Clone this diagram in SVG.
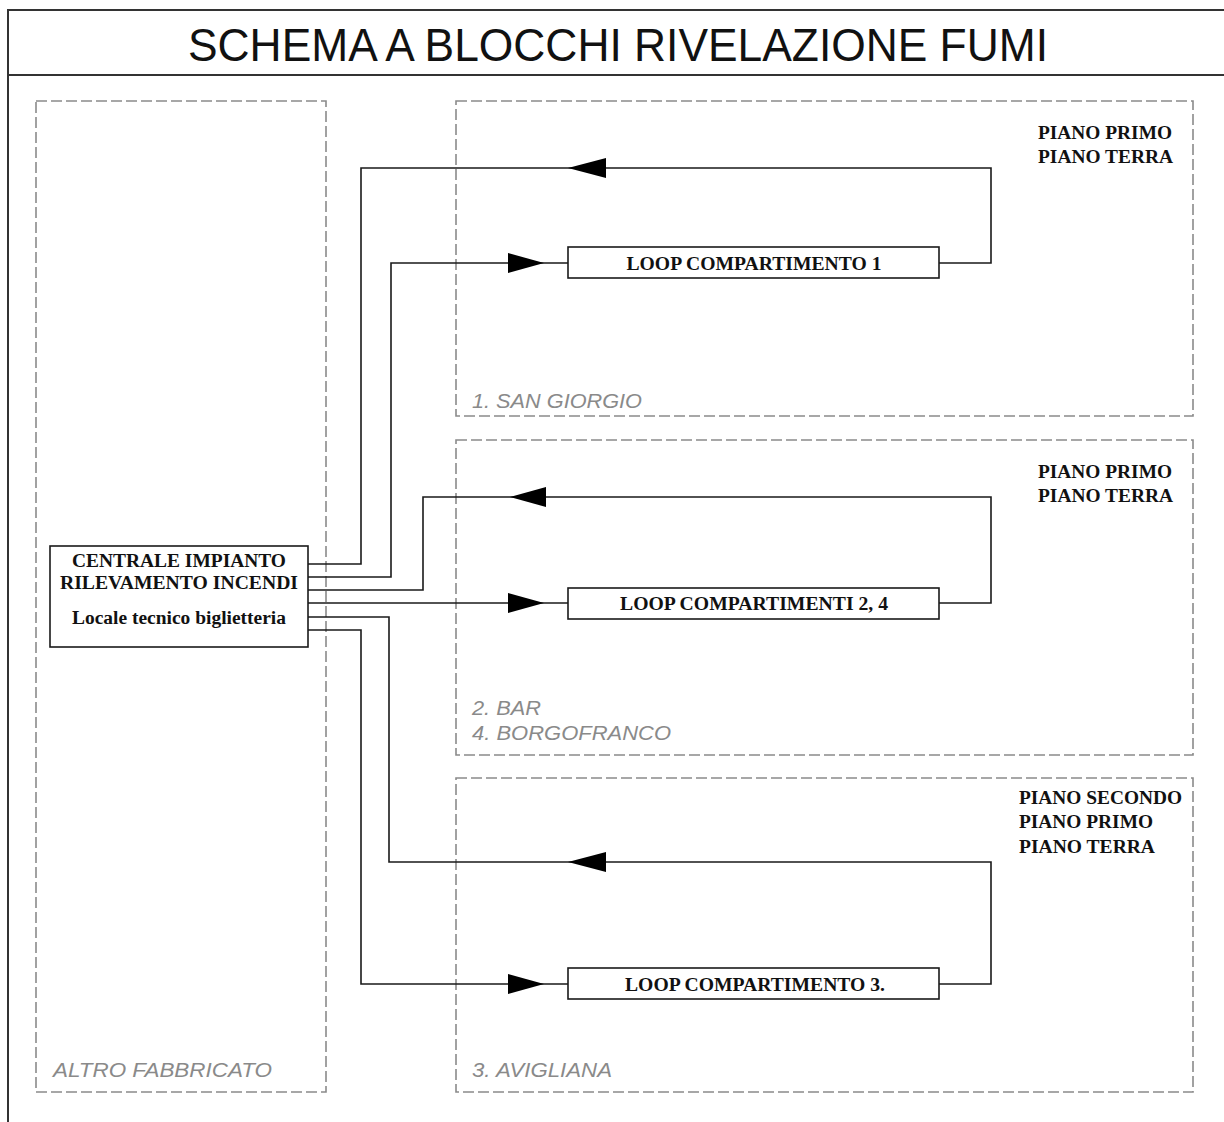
<svg xmlns="http://www.w3.org/2000/svg" width="1224" height="1122" viewBox="0 0 1224 1122">
<style>
.frame{fill:none;stroke:#333;stroke-width:2}
.zone{fill:none;stroke:#8a8a8a;stroke-width:1.6;stroke-dasharray:11 4}
.box{fill:#fff;stroke:#1a1a1a;stroke-width:1.6}
.wire{fill:none;stroke:#1a1a1a;stroke-width:1.6}
.arrow{fill:#000}
.title{font-family:"Liberation Sans",Arial,sans-serif;font-size:47px;fill:#111}
.bold{font-family:"Liberation Serif","Times New Roman",serif;font-weight:bold;font-size:18px;fill:#111}
.zlabel{font-family:"Liberation Sans",Arial,sans-serif;font-style:italic;font-size:20px;fill:#8a8a8a}
</style>
<rect width="1224" height="1122" fill="#fff"/>
<g id="frame">
<path class="frame" d="M1226,10 H8 V1124 M8,75 H1226"/>
<text class="title" x="618" y="61" text-anchor="middle" textLength="860" lengthAdjust="spacingAndGlyphs">SCHEMA A BLOCCHI RIVELAZIONE FUMI</text>
</g>
<g id="zone-altro">
<rect class="zone" x="36" y="101" width="290" height="991"/>
<text class="zlabel" x="53" y="1077" textLength="219" lengthAdjust="spacingAndGlyphs">ALTRO FABBRICATO</text>
</g>
<g id="zone-1">
<rect class="zone" x="456" y="101" width="737" height="315"/>
<text class="zlabel" x="472" y="408" textLength="170" lengthAdjust="spacingAndGlyphs">1. SAN GIORGIO</text>
<text class="bold" x="1038" y="139" textLength="134" lengthAdjust="spacingAndGlyphs">PIANO PRIMO</text>
<text class="bold" x="1038" y="163" textLength="135" lengthAdjust="spacingAndGlyphs">PIANO TERRA</text>
</g>
<g id="zone-2">
<rect class="zone" x="456" y="440" width="737" height="315"/>
<text class="zlabel" x="472" y="715" textLength="69" lengthAdjust="spacingAndGlyphs">2. BAR</text>
<text class="zlabel" x="472" y="740" textLength="199" lengthAdjust="spacingAndGlyphs">4. BORGOFRANCO</text>
<text class="bold" x="1038" y="478" textLength="134" lengthAdjust="spacingAndGlyphs">PIANO PRIMO</text>
<text class="bold" x="1038" y="502" textLength="135" lengthAdjust="spacingAndGlyphs">PIANO TERRA</text>
</g>
<g id="zone-3">
<rect class="zone" x="456" y="778" width="737" height="314"/>
<text class="zlabel" x="472" y="1077" textLength="140" lengthAdjust="spacingAndGlyphs">3. AVIGLIANA</text>
<text class="bold" x="1019" y="804" textLength="163" lengthAdjust="spacingAndGlyphs">PIANO SECONDO</text>
<text class="bold" x="1019" y="828" textLength="134" lengthAdjust="spacingAndGlyphs">PIANO PRIMO</text>
<text class="bold" x="1019" y="853" textLength="136" lengthAdjust="spacingAndGlyphs">PIANO TERRA</text>
</g>
<g id="connectors">
<path class="wire" d="M308,564 H361 V168 H991 V263 H939"/>
<path class="wire" d="M308,577 H391 V263 H568"/>
<path class="wire" d="M308,590 H423 V497 H991 V603 H939"/>
<path class="wire" d="M308,603 H568"/>
<path class="wire" d="M308,617 H389 V862 H991 V984 H939"/>
<path class="wire" d="M308,630 H361 V984 H568"/>
<polygon class="arrow" points="568,168 606,158 606,178"/>
<polygon class="arrow" points="544,263 508,253 508,273"/>
<polygon class="arrow" points="510,497 546,487 546,507"/>
<polygon class="arrow" points="544,603 508,593 508,613"/>
<polygon class="arrow" points="568,862 606,852 606,872"/>
<polygon class="arrow" points="544,984 508,974 508,994"/>
</g>
<g id="centrale">
<rect class="box" x="50" y="546" width="258" height="101"/>
<text class="bold" x="179" y="567" text-anchor="middle" textLength="214" lengthAdjust="spacingAndGlyphs">CENTRALE IMPIANTO</text>
<text class="bold" x="179" y="589" text-anchor="middle" textLength="238" lengthAdjust="spacingAndGlyphs">RILEVAMENTO INCENDI</text>
<text class="bold" x="179" y="624" text-anchor="middle" textLength="214" lengthAdjust="spacingAndGlyphs">Locale tecnico biglietteria</text>
</g>
<g id="loop-1">
<rect class="box" x="568" y="247" width="371" height="31"/>
<text class="bold" x="754" y="270" text-anchor="middle" textLength="255" lengthAdjust="spacingAndGlyphs">LOOP COMPARTIMENTO 1</text>
</g>
<g id="loop-2">
<rect class="box" x="568" y="588" width="371" height="31"/>
<text class="bold" x="754" y="610" text-anchor="middle" textLength="268" lengthAdjust="spacingAndGlyphs">LOOP COMPARTIMENTI 2, 4</text>
</g>
<g id="loop-3">
<rect class="box" x="568" y="968" width="371" height="31"/>
<text class="bold" x="755" y="991" text-anchor="middle" textLength="260" lengthAdjust="spacingAndGlyphs">LOOP COMPARTIMENTO 3.</text>
</g>
</svg>
